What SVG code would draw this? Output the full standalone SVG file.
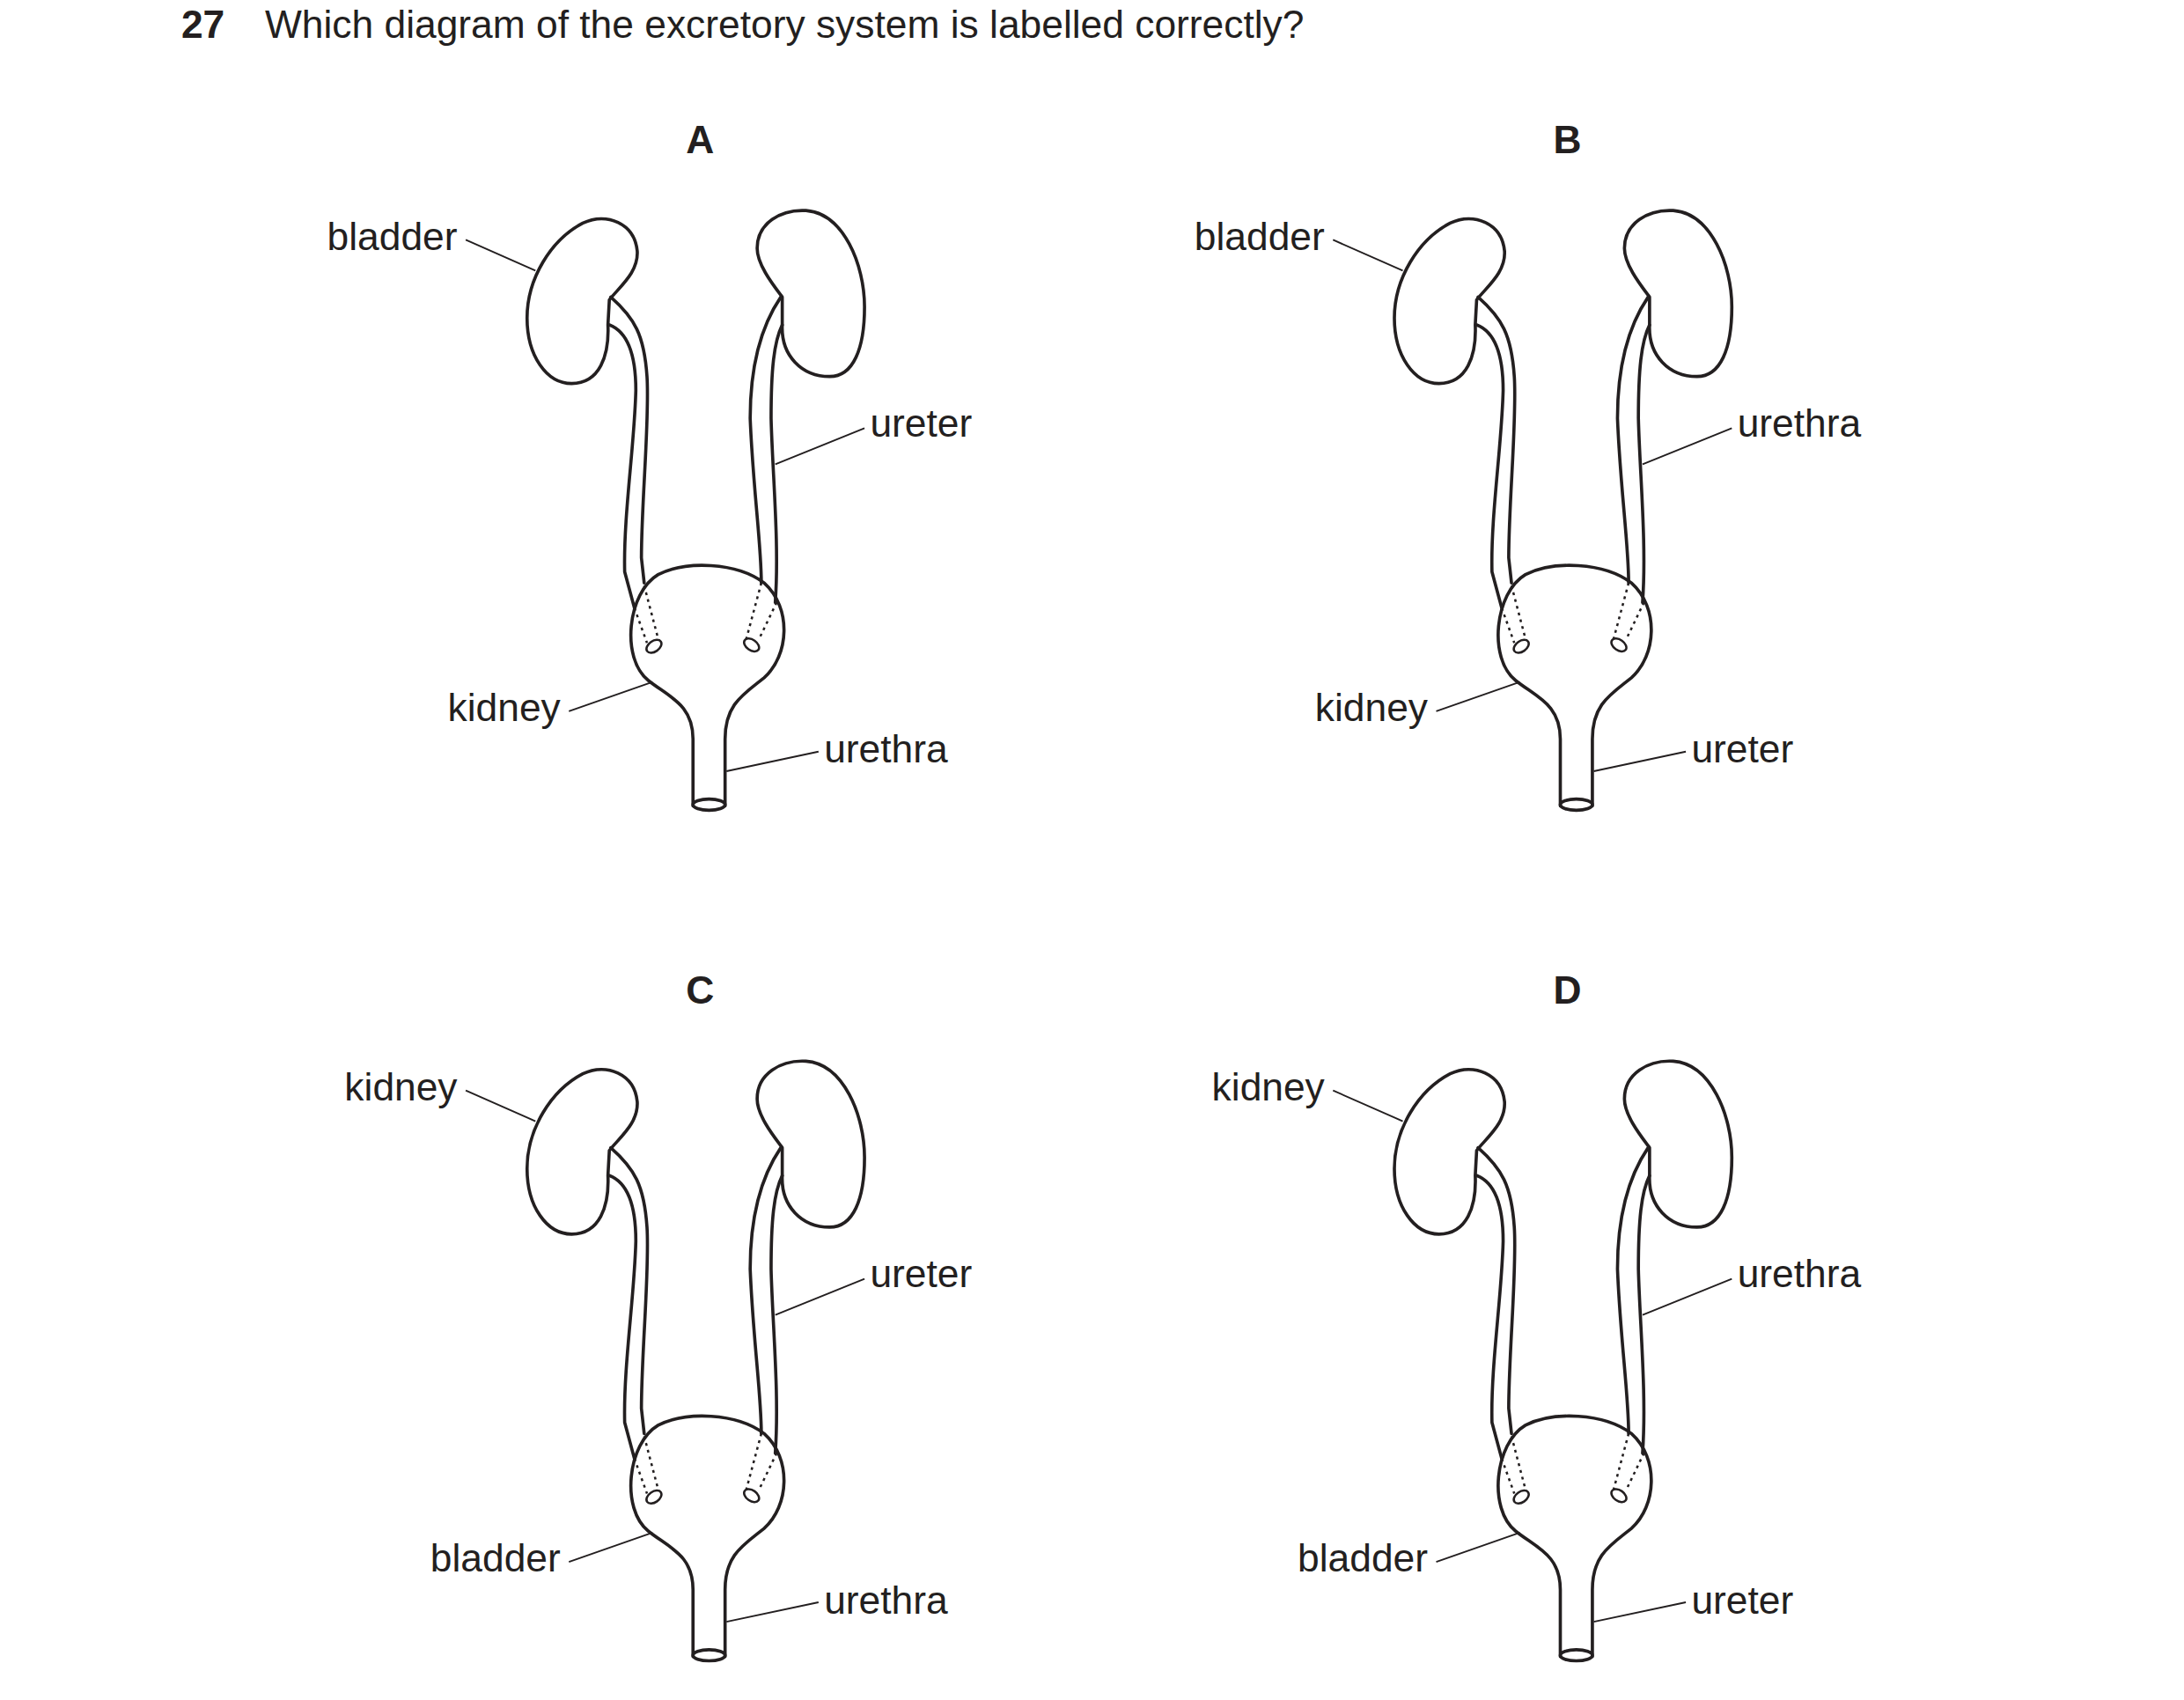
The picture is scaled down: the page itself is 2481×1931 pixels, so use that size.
<svg xmlns="http://www.w3.org/2000/svg" xmlns:xlink="http://www.w3.org/1999/xlink" width="2481" height="1931" viewBox="0 0 2481 1931">
<style>
.o{fill:none;stroke:#231f20;stroke-width:2.3;stroke-linejoin:round;stroke-linecap:round}
.d{fill:none;stroke:#231f20;stroke-width:1.6;stroke-dasharray:2,3}
.l{fill:none;stroke:#231f20;stroke-width:1.2}
text{font-family:"Liberation Sans",Arial,sans-serif;font-size:28px;fill:#231f20}
.b{font-weight:bold}
</style>
<defs>
<g id="sys">
<path class="o" d="M437,215 C445,205 458,195 457,180 C455,160 435,152 418,160 C395,172 378,200 378,228 C378,255 392,275 410,275 C430,275 437,255 436,233 Z"/>
<path class="o" d="M561,213 C555,205 543,190 543,178 C543,160 560,150 578,151 C605,153 620,190 620,220 C620,250 612,270 595,270 C575,270 560,255 561,233 Z"/>
<path class="o" d="M438,213 C455,228 462,240 464,270 C466,300 460,360 460,400 L462,418"/>
<path class="o" d="M437,233 C450,238 456,255 456,280 C455,320 447,370 448,410 L455,436"/>
<path class="o" d="M560,213 C545,235 538,265 538,300 C540,350 546,390 546,418"/>
<path class="o" d="M561,233 C555,245 553,265 553,300 C554,340 559,390 556,432"/>
<path class="o" d="M465,488 C445,472 450,425 472,412 C492,402 528,403 548,418 C568,436 566,470 548,486 C533,498 520,505 520,530 L520,578 M497,578 L497,530 C497,505 480,500 465,488"/>
<ellipse class="o" cx="508.5" cy="577" rx="11.5" ry="4"/>
<path class="d" d="M455,436 L464,461 M462,420 L472,458 M546,418 L535,459 M557,432 L544,459"/>
<ellipse class="o" cx="469" cy="463.5" rx="6" ry="3.8" transform="rotate(-35 469 463.5)" style="stroke-width:1.6"/>
<ellipse class="o" cx="539" cy="462.5" rx="6" ry="3.8" transform="rotate(35 539 462.5)" style="stroke-width:1.6"/>
</g>
</defs>
<rect width="2481" height="1931" fill="#fff"/>
<g transform="scale(1.584)">
<g id="question"><text x="130" y="27" class="b">27</text><text x="190" y="27">Which diagram of the excretory system is labelled correctly?</text></g>
<g id="diagramA">
<text x="502" y="110" class="b" text-anchor="middle">A</text>
<use xlink:href="#sys"/>
<text x="328" y="179" text-anchor="end">bladder</text>
<text x="624" y="313">ureter</text>
<text x="402" y="517" text-anchor="end">kidney</text>
<text x="591" y="547">urethra</text>
</g>
<g id="diagramB" transform="translate(622,0)">
<text x="502" y="110" class="b" text-anchor="middle">B</text>
<use xlink:href="#sys"/>
<text x="328" y="179" text-anchor="end">bladder</text>
<text x="624" y="313">urethra</text>
<text x="402" y="517" text-anchor="end">kidney</text>
<text x="591" y="547">ureter</text>
</g>
<g id="diagramC" transform="translate(0,610)">
<text x="502" y="110" class="b" text-anchor="middle">C</text>
<use xlink:href="#sys"/>
<text x="328" y="179" text-anchor="end">kidney</text>
<text x="624" y="313">ureter</text>
<text x="402" y="517" text-anchor="end">bladder</text>
<text x="591" y="547">urethra</text>
</g>
<g id="diagramD" transform="translate(622,610)">
<text x="502" y="110" class="b" text-anchor="middle">D</text>
<use xlink:href="#sys"/>
<text x="328" y="179" text-anchor="end">kidney</text>
<text x="624" y="313">urethra</text>
<text x="402" y="517" text-anchor="end">bladder</text>
<text x="591" y="547">ureter</text>
</g>
<g id="connectors">
<path class="l" d="M334,172 L384,194 M620,307 L556,333 M408,510 L468,489 M587,539 L521,553"/>
<path class="l" transform="translate(622,0)" d="M334,172 L384,194 M620,307 L556,333 M408,510 L468,489 M587,539 L521,553"/>
<path class="l" transform="translate(0,610)" d="M334,172 L384,194 M620,307 L556,333 M408,510 L468,489 M587,539 L521,553"/>
<path class="l" transform="translate(622,610)" d="M334,172 L384,194 M620,307 L556,333 M408,510 L468,489 M587,539 L521,553"/>
</g>
</g>
</svg>
